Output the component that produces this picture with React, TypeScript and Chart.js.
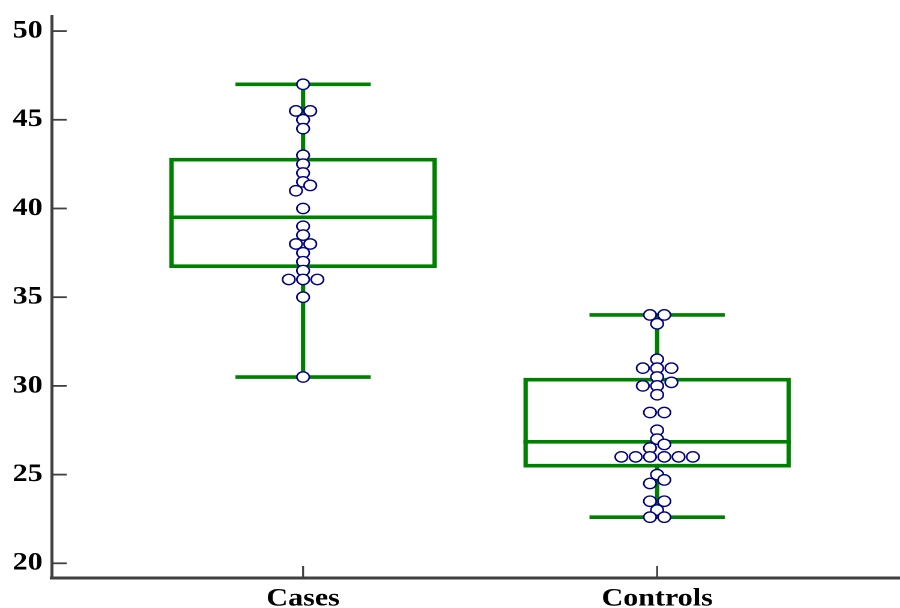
import React, { useEffect, useRef } from "react";
import { Chart, registerables } from "chart.js";

Chart.register(...registerables);

// ---- data ----
const categories = ["Cases", "Controls"];
const casesValues = [
  47, 45.5, 45.5, 45, 44.5, 43, 42.5, 42, 41.5, 41.3, 41, 40, 39, 38.5, 38, 38,
  37.5, 37, 36.5, 36, 36, 36, 35, 30.5,
];
const controlsValues = [
  34, 34, 33.5, 31.5, 31, 31, 31, 30.5, 30.2, 30, 30, 29.5, 28.5, 28.5, 27.5, 27,
  26.7, 26.5, 26, 26, 26, 26, 26, 26, 25, 24.7, 24.5, 23.5, 23.5, 23, 22.6, 22.6,
];
// box statistics: [lower whisker, Q1, median, Q3, upper whisker]
const casesBox = [30.5, 36.75, 39.5, 42.75, 47];
const controlsBox = [22.6, 25.5, 26.85, 30.35, 34];
const yTicks = [20, 25, 30, 35, 40, 45, 50];

// ---- layout / style constants ----
const CANVAS_W = 750; // internal width (the reference is horizontally stretched)
const CANVAS_H = 608;
const DISPLAY_W = 900;
const X_MIN = -0.7102;
const X_MAX = 1.6864;
const Y_MIN = 19.171;
const Y_MAX = 50.85;
const BOX_HALF = 0.3715;
const CAP_HALF = 0.185;
const SWARM_STEP = 0.0404;
const SWARM_BIN = 0.5;
const GREEN = "#008000";
const NAVY = "#000080";
const AXIS = "#404040";
const FONT = { family: '"Liberation Serif", "Times New Roman", serif', size: 25, weight: "bold" as const };

function swarm(values: number[], center: number) {
  const bins = new Map<number, number[]>();
  values.forEach((v) => {
    const b = Math.floor(v / SWARM_BIN + 1e-9);
    if (!bins.has(b)) bins.set(b, []);
    bins.get(b)!.push(v);
  });
  const pts: { x: number; y: number }[] = [];
  bins.forEach((vals) => {
    const sorted = [...vals].sort((a, b) => a - b);
    const n = sorted.length;
    sorted.forEach((v, i) => {
      pts.push({ x: center + (i - (n - 1) / 2) * SWARM_STEP, y: v });
    });
  });
  return pts;
}

function boxSegments(stats: number[], c: number) {
  const [lo, q1, med, q3, hi] = stats;
  return [
    [
      { x: c - BOX_HALF, y: q1 },
      { x: c + BOX_HALF, y: q1 },
      { x: c + BOX_HALF, y: q3 },
      { x: c - BOX_HALF, y: q3 },
      { x: c - BOX_HALF, y: q1 },
    ],
    [{ x: c - BOX_HALF, y: med }, { x: c + BOX_HALF, y: med }],
    [{ x: c, y: q3 }, { x: c, y: hi }],
    [{ x: c - CAP_HALF, y: hi }, { x: c + CAP_HALF, y: hi }],
    [{ x: c, y: q1 }, { x: c, y: lo }],
    [{ x: c - CAP_HALF, y: lo }, { x: c + CAP_HALF, y: lo }],
  ];
}

const innerTicks = {
  id: "innerTicks",
  beforeDatasetsDraw(chart: any) {
    const { ctx, chartArea, scales } = chart;
    ctx.save();
    ctx.strokeStyle = AXIS;
    ctx.lineWidth = 1.8;
    scales.y.ticks.forEach((t: any) => {
      const y = scales.y.getPixelForValue(t.value);
      ctx.beginPath();
      ctx.moveTo(chartArea.left, y);
      ctx.lineTo(chartArea.left + 12.5, y);
      ctx.stroke();
    });
    ctx.lineWidth = 1.6;
    scales.x.ticks.forEach((t: any) => {
      const x = scales.x.getPixelForValue(t.value);
      ctx.beginPath();
      ctx.moveTo(x, chartArea.bottom);
      ctx.lineTo(x, chartArea.bottom - 12);
      ctx.stroke();
    });
    ctx.restore();
  },
};

const zeroPadding = () => ({ left: 0, top: 0, right: 0, bottom: 0 });

function buildChart(canvas: HTMLCanvasElement, extra: number) {
  const w = CANVAS_W + extra;
  canvas.width = w;
  canvas.height = CANVAS_H;
  canvas.style.width = `${(DISPLAY_W * w) / CANVAS_W}px`;
  canvas.style.height = `${CANVAS_H}px`;

  const groups = [casesValues, controlsValues];
  const boxes = [casesBox, controlsBox];

  const pointSets = groups.map((vals, i) => ({
    type: "scatter" as const,
    data: swarm(vals, i),
    pointRadius: 5.2,
    pointHoverRadius: 5.2,
    pointBorderWidth: 1.35,
    pointBorderColor: NAVY,
    pointBackgroundColor: "#ffffff",
    showLine: false,
  }));

  const lineSets: any[] = [];
  boxes.forEach((stats, i) => {
    boxSegments(stats, i).forEach((seg) => {
      lineSets.push({
        type: "line" as const,
        data: seg,
        borderColor: GREEN,
        borderWidth: 3.6,
        borderJoinStyle: "miter",
        borderCapStyle: "square",
        pointRadius: 0,
        fill: false,
        tension: 0,
      });
    });
  });

  return new Chart(canvas, {
    type: "scatter",
    data: { datasets: [...pointSets, ...lineSets] as any },
    plugins: [innerTicks],
    options: {
      responsive: false,
      devicePixelRatio: 2,
      animation: false,
      events: [],
      layout: { padding: { top: 16, right: 0, bottom: 0, left: 0 } },
      plugins: { legend: { display: false }, tooltip: { enabled: false } },
      scales: {
        x: {
          type: "linear",
          min: X_MIN,
          max: X_MAX,
          afterBuildTicks: (s: any) => {
            s.ticks = categories.map((_, i) => ({ value: i }));
          },
          afterFit: (s: any) => {
            s.height = 30;
            s.paddingLeft = 0;
            s.paddingRight = 0;
            s.getPadding = zeroPadding;
          },
          grid: { display: false, drawTicks: false },
          border: { display: true, color: AXIS, width: 3 },
          ticks: {
            font: FONT,
            color: "#000",
            padding: 6,
            autoSkip: false,
            maxRotation: 0,
            callback: (v: any) => categories[Number(v)] ?? "",
          },
        },
        y: {
          type: "linear",
          min: Y_MIN,
          max: Y_MAX,
          afterBuildTicks: (s: any) => {
            s.ticks = yTicks.map((v) => ({ value: v }));
          },
          afterFit: (s: any) => {
            s.width = 43;
            s.paddingTop = 0;
            s.paddingBottom = 0;
            s.getPadding = zeroPadding;
          },
          grid: { display: false, drawTicks: false },
          border: { display: true, color: AXIS, width: 2.5 },
          ticks: {
            font: FONT,
            color: "#000",
            padding: 7.5,
            callback: (v: any) => String(v),
          },
        },
      },
    },
  });
}

export default function App() {
  const ref = useRef<HTMLCanvasElement | null>(null);

  useEffect(() => {
    const canvas = ref.current;
    if (!canvas) return;
    let chart = buildChart(canvas, 0);
    const gap = CANVAS_W - chart.chartArea.right;
    if (gap > 0.5) {
      chart.destroy();
      chart = buildChart(canvas, gap);
    }
    return () => chart.destroy();
  }, []);

  return (
    <div style={{ position: "absolute", left: 0, top: 0, width: DISPLAY_W, height: CANVAS_H, background: "#fff", overflow: "hidden" }}>
      <canvas ref={ref} width={CANVAS_W} height={CANVAS_H} style={{ width: `${DISPLAY_W}px`, height: `${CANVAS_H}px`, display: "block" }} />
    </div>
  );
}
